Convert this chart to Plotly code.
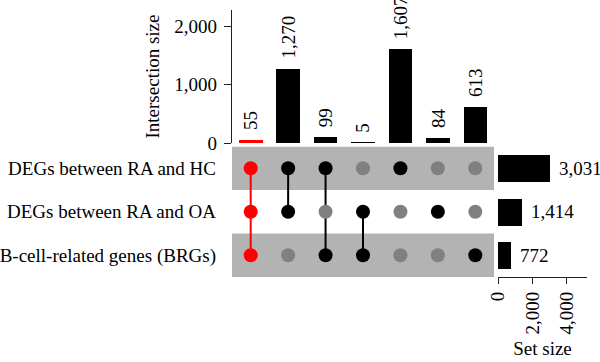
import plotly.graph_objects as go

# ---- data ----
set_names = ["DEGs between RA and HC", "DEGs between RA and OA", "B-cell-related genes (BRGs)"]
set_sizes = [3031, 1414, 772]
intersection_sizes = [55, 1270, 99, 5, 1607, 84, 613]
# membership per intersection column: indices into set_names
memberships = [[0, 1, 2], [0, 1], [0, 2], [1, 2], [0], [1], [2]]
highlight = [True, False, False, False, False, False, False]
top_ticks = [0, 1000, 2000]
set_ticks = [0, 2000, 4000]

FONT = "Liberation Serif"
W, H = 600, 362
RED = "#ff0000"
BLACK = "#000000"
GREY_DOT = "#808080"
BAND = "#b3b3b3"

n_cols = len(intersection_sizes)
n_sets = len(set_names)
# row position: first set on top
row_y = {i: n_sets - 1 - i for i in range(n_sets)}

fig = go.Figure()

# top bars
fig.add_trace(go.Bar(
    x=list(range(n_cols)), y=intersection_sizes,
    marker=dict(color=[RED if h else BLACK for h in highlight], line=dict(width=0)),
    width=0.63, cliponaxis=False, xaxis="x", yaxis="y",
    showlegend=False, hoverinfo="skip"))

annotations = []
for c, v in enumerate(intersection_sizes):
    annotations.append(dict(x=c, y=v, xref="x", yref="y", text=f"{v:,}", textangle=-90,
                            showarrow=False, xanchor="center", yanchor="bottom", yshift=8,
                            font=dict(family=FONT, size=19, color="black")))

# matrix dots and lines
for c, members in enumerate(memberships):
    col_color = RED if highlight[c] else BLACK
    ys = [row_y[m] for m in members]
    if len(ys) > 1:
        fig.add_trace(go.Scatter(
            x=[c, c], y=[min(ys), max(ys)], mode="lines",
            line=dict(color=col_color, width=2), xaxis="x", yaxis="y2",
            showlegend=False, hoverinfo="skip"))
    colors = []
    yy = []
    for s in range(n_sets):
        yy.append(row_y[s])
        colors.append(col_color if s in members else GREY_DOT)
    fig.add_trace(go.Scatter(
        x=[c] * n_sets, y=yy, mode="markers",
        marker=dict(color=colors, size=14, line=dict(width=0)),
        xaxis="x", yaxis="y2", showlegend=False, hoverinfo="skip"))

# set size bars
fig.add_trace(go.Bar(
    y=[row_y[s] for s in range(n_sets)], x=set_sizes, orientation="h",
    marker=dict(color=BLACK, line=dict(width=0)), width=0.63,
    cliponaxis=False, xaxis="x2", yaxis="y2", showlegend=False, hoverinfo="skip"))

for s, v in enumerate(set_sizes):
    annotations.append(dict(x=v, y=row_y[s], xref="x2", yref="y2", text=f"{v:,}",
                            showarrow=False, xanchor="left", yanchor="middle", xshift=7,
                            font=dict(family=FONT, size=19, color="black")))

# background bands for alternating rows
shapes = []
for s in range(n_sets):
    if s % 2 == 0:
        y0 = row_y[s] - 0.5
        shapes.append(dict(type="rect", xref="x", yref="y2", x0=-0.5, x1=n_cols - 0.5,
                           y0=y0, y1=y0 + 1, fillcolor=BAND, line=dict(width=0), layer="below"))

def px(x):
    return x / W

def py(y):
    return 1 - y / H

fig.update_layout(
    width=W, height=H, margin=dict(l=0, r=0, t=0, b=0),
    paper_bgcolor="white", plot_bgcolor="rgba(0,0,0,0)",
    font=dict(family=FONT, size=19, color="black"),
    shapes=shapes, annotations=annotations, bargap=0,
    xaxis=dict(domain=[px(232), px(494)], range=[-0.5, n_cols - 0.5], visible=False,
               anchor="y2", fixedrange=True, automargin=False),
    yaxis=dict(domain=[py(143), py(10)], range=[0, 2280], anchor="x", automargin=False,
               showline=True, linecolor="#222", linewidth=1.2, ticks="outside", ticklen=7,
               tickcolor="#222", tickvals=top_ticks, tickformat=",", showgrid=False,
               zeroline=False, tickfont=dict(size=19), ticklabelstandoff=3,
               title=dict(text="Intersection size", standoff=9, font=dict(size=19))),
    yaxis2=dict(domain=[py(277), py(146.5)], range=[-0.5, n_sets - 0.5], anchor="x",
                automargin=False,
                tickvals=[row_y[s] for s in range(n_sets)], ticktext=set_names,
                showgrid=False, zeroline=False, showline=False, ticks="",
                ticklabelstandoff=15, tickfont=dict(size=19)),
    xaxis2=dict(domain=[px(498), px(587)], range=[0, 5165], anchor="y2", automargin=False,
                showline=True, linecolor="#222", linewidth=1.2, ticks="outside", ticklen=6,
                tickcolor="#222", tickvals=set_ticks, tickformat=",", tickangle=-90,
                showgrid=False, zeroline=False, tickfont=dict(size=19),
                title=dict(text="Set size", standoff=8, font=dict(size=19))),
)

fig.write_html("out.html", config={"displayModeBar": False},
               post_script="document.body.style.margin='0';")
